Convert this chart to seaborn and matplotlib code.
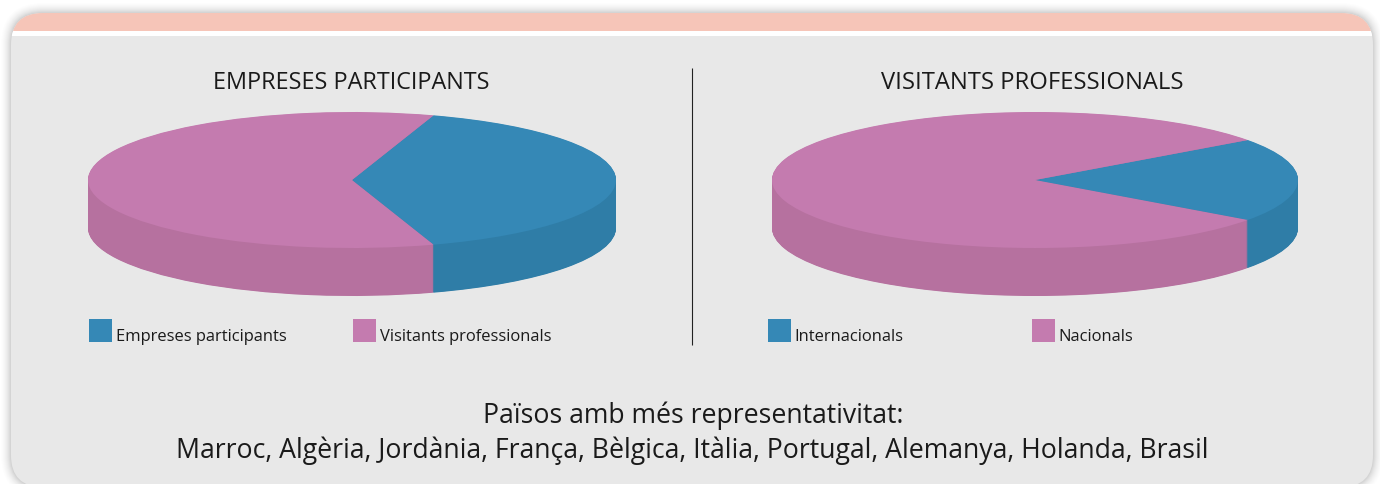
import matplotlib
matplotlib.use("Agg")
import matplotlib.pyplot as plt
from matplotlib.patches import FancyBboxPatch, Rectangle
import seaborn as sns

# Data
left_title = "EMPRESES PARTICIPANTS"
left_labels = ["Empreses participants", "Visitants professionals"]
left_values = [40, 60]
right_title = "VISITANTS PROFESSIONALS"
right_labels = ["Internacionals", "Nacionals"]
right_values = [20, 80]
footer_lines = ["Països amb més representativitat:",
                "Marroc, Algèria, Jordània, França, Bèlgica, Itàlia, Portugal, Alemanya, Holanda, Brasil"]

# Styles
W, H = 1380, 484
top_colors = sns.color_palette(["#3588B6", "#C47BAF"])
side_colors = sns.color_palette(["#2F7DA7", "#B6719F"])
PANEL = "#E8E8E8"
BAND = "#F6C5B8"
TXT = "#1A1A1A"
FONT = ["Open Sans", "DejaVu Sans"]
px = 72 / 100  # points per pixel at dpi=100

sns.set_theme(style="white")
plt.rcParams["font.family"] = FONT

fig = plt.figure(figsize=(W / 100, H / 100), dpi=100, facecolor="white")
bg = fig.add_axes([0, 0, 1, 1], zorder=0)
bg.set_xlim(0, W)
bg.set_ylim(H, 0)
bg.axis("off")

# Soft shadow around the panel
for grow, a in zip(range(10, 0, -1), [.006, .008, .01, .012, .014, .016, .02, .024, .028, .032]):
    bg.add_patch(FancyBboxPatch((11 - grow, 13 - grow), 1362 + 2 * grow, 474 + 2 * grow,
                                boxstyle=f"round,pad=0,rounding_size={32 + grow}",
                                fc="black", ec="none", alpha=a))
# Panel, with clipped band and white strip
panel = FancyBboxPatch((11, 13), 1362, 474, boxstyle="round,pad=0,rounding_size=32",
                       fc=PANEL, ec="none")
bg.add_patch(panel)
band = Rectangle((11, 13), 1362, 18, fc=BAND, ec="none")
strip = Rectangle((11, 31), 1362, 5, fc="white", ec="none")
bg.add_patch(band)
bg.add_patch(strip)
band.set_clip_path(panel)
strip.set_clip_path(panel)

# Divider
bg.plot([691.7, 691.7], [68, 345], color="#222222", lw=1 * px * 1.1, solid_capstyle="butt")


def pie3d(x0, y0, rx, values, start):
    """Extruded pie: stacked darker pies beneath a top pie, on a squashed axes."""
    ry, depth = 68, 48
    ax = fig.add_axes([x0 / W, 1 - (y0 + 2 * ry + depth) / H, 2 * rx / W, (2 * ry + depth) / H],
                      zorder=1)
    d_units = depth / ry
    n = depth * 2
    for i in range(n, 0, -1):
        ax.pie(values, colors=side_colors, startangle=start, counterclock=True,
               center=(0, -d_units * i / n), radius=1, wedgeprops=dict(linewidth=0))
    ax.pie(values, colors=top_colors, startangle=start, center=(0, 0), radius=1,
           wedgeprops=dict(linewidth=0))
    ax.set_aspect("auto")
    ax.set_xlim(-1, 1)
    ax.set_ylim(-1 - d_units, 1)
    ax.patch.set_visible(False)
    ax.set_axis_off()
    for p in ax.patches:
        p.set_clip_on(False)
    return ax


pie3d(88, 112, 264, left_values, -72)
pie3d(772, 112, 263, right_values, -36)

# Titles
bg.text(351.5, 83, left_title, ha="center", va="center", fontsize=23.4 * px, color=TXT)
bg.text(1032.5, 83, right_title, ha="center", va="center", fontsize=23.8 * px, color=TXT)


# Legends
def legend(xs, labels):
    for x, lab, c in zip(xs, labels, top_colors):
        bg.add_patch(Rectangle((x, 319), 23, 23, fc=c, ec="none"))
        bg.text(x + 26.5, 337, lab, ha="left", va="center", fontsize=16.55 * px, color=TXT)


legend([89, 353], left_labels)
legend([768, 1032], right_labels)

# Footer
bg.text(693, 416, footer_lines[0], ha="center", va="center", fontsize=26.6 * px, color=TXT)
bg.text(692, 451, footer_lines[1], ha="center", va="center", fontsize=26.6 * px, color=TXT)

fig.savefig("out.png", dpi=100, facecolor="white")
